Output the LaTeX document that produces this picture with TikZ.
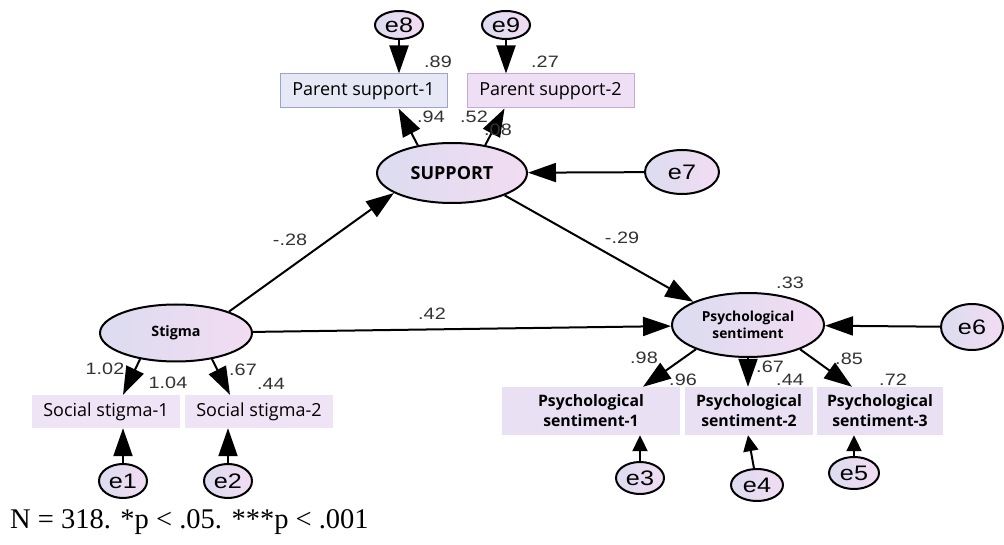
\documentclass[tikz,border=0pt]{standalone}
\usepackage{fontspec}
\setmainfont{Liberation Serif}
\newfontfamily\numfont[FakeStretch=1.2]{Liberation Sans}
\newfontfamily\boxfont{Open Sans}
\usetikzlibrary{arrows.meta,shapes.geometric,calc}
\definecolor{ellL}{HTML}{DCDCF0}
\definecolor{ellR}{HTML}{F2DCF2}
\definecolor{pbAfill}{HTML}{E6E8F6}
\definecolor{pbAdraw}{HTML}{9AA6C8}
\definecolor{pbBfill}{HTML}{EFDFF5}
\definecolor{pbBdraw}{HTML}{C8A8D8}
\definecolor{ssfill}{HTML}{EFE3F6}
\definecolor{psfill}{HTML}{E9E1F3}
\tikzset{
  latent/.style={ellipse, draw=black, line width=2pt, left color=ellL, right color=ellR, inner sep=0pt},
  errnode/.style={ellipse, draw=black, line width=2pt, left color=ellL, right color=ellR, inner sep=0pt,
    font=\numfont\fontsize{21}{21}\selectfont},
  obsbox/.style={rectangle, inner sep=0pt, font=\boxfont\fontsize{18}{18}\selectfont},
  psbox/.style={rectangle, inner sep=0pt, fill=psfill, align=center,
    font=\boxfont\bfseries\fontsize{15.8}{20}\selectfont},
  arr/.style={line width=2pt, -{Triangle[length=28pt,width=19pt]}},
  arrs/.style={line width=2pt, -{Triangle[length=16pt,width=15pt]}},
  lbl/.style={font=\numfont\fontsize{16.5}{16.5}\selectfont, inner sep=0pt, text=black!80}
}
\begin{document}
\begin{tikzpicture}[x=1pt,y=-1pt]
\path[use as bounding box, fill=white] (0,0) rectangle (1004,545);
% top error terms and parent boxes
\node[errnode, minimum width=48pt, minimum height=28pt] (e8) at (399,25) {e8};
\node[errnode, minimum width=48pt, minimum height=28pt] (e9) at (506,25) {e9};
\node[obsbox, fill=pbAfill, draw=pbAdraw, line width=1pt, minimum width=167pt, minimum height=34pt] (pb1) at (363.5,91) {Parent support-1};
\node[obsbox, fill=pbBfill, draw=pbBdraw, line width=1pt, minimum width=167pt, minimum height=34pt] (pb2) at (550.5,91) {Parent support-2};
\node[latent, minimum width=150pt, minimum height=60pt, font=\boxfont\bfseries\fontsize{18}{18}\selectfont] (sup) at (452,173) {SUPPORT};
\node[errnode, minimum width=74pt, minimum height=44pt] (e7) at (682,172) {e7};
% Stigma side
\node[latent, minimum width=152pt, minimum height=57pt, font=\boxfont\bfseries\fontsize{14.3}{14.3}\selectfont] (stig) at (176,333) {Stigma};
\node[obsbox, fill=ssfill, minimum width=148pt, minimum height=33pt] (ss1) at (106,411.5) {Social stigma-1};
\node[obsbox, fill=ssfill, minimum width=148pt, minimum height=33pt] (ss2) at (259,411.5) {Social stigma-2};
\node[errnode, minimum width=48pt, minimum height=34pt] (e1) at (123,481) {e1};
\node[errnode, minimum width=48pt, minimum height=34pt] (e2) at (228,481) {e2};
% Psychological sentiment side
\node[latent, minimum width=152pt, minimum height=64pt, align=center, font=\boxfont\bfseries\fontsize{13.8}{16.5}\selectfont] (ps) at (748,325) {Psychological\\sentiment};
\node[errnode, minimum width=62pt, minimum height=46pt] (e6) at (972,327) {e6};
\node[psbox, minimum width=178pt, minimum height=48pt] (psb1) at (591,411) {Psychological\\sentiment-1};
\node[psbox, minimum width=128pt, minimum height=48pt] (psb2) at (749,411) {Psychological\\sentiment-2};
\node[psbox, minimum width=126pt, minimum height=48pt] (psb3) at (880,411) {Psychological\\sentiment-3};
\node[errnode, minimum width=48pt, minimum height=32pt] (e3) at (640,478) {e3};
\node[errnode, minimum width=52pt, minimum height=32pt] (e4) at (757,485) {e4};
\node[errnode, minimum width=50pt, minimum height=32pt] (e5) at (854,473) {e5};
% connectors
\draw[arr] (e8) -- (e8 |- pb1.north);
\draw[arr] (e9) -- (e9 |- pb2.north);
\draw[arr] (sup.141) -- ($(pb1.south)+(35,0)$);
\draw[arr] (sup.40) -- ($(pb2.south)+(-46,0)$);
\draw[arr] (e7) -- (sup);
\draw[arr] (stig.22) -- (sup.199);
\draw[arr] (sup.-23) -- (ps.157);
\draw[arr] (stig) -- (ps);
\draw[arr] (e6) -- (ps);
\draw[arr] (stig.-144) -- ($(ss1.north)+(17,0)$);
\draw[arr] (stig.-36) -- ($(ss2.north)+(-29,0)$);
\draw[arr] (e1) -- (e1 |- ss1.south);
\draw[arr] (e2) -- (e2 |- ss2.south);
\draw[arr] (ps.205) -- ($(psb1.north)+(52,0)$);
\draw[arr] (ps.south) -- (ps.south |- psb2.north);
\draw[arr] (ps.-25) -- ($(psb3.north)+(-28,0)$);
\draw[arrs] (e3) -- (e3 |- psb1.south);
\draw[arrs] (e4) -- ($(psb2.south)+(-1,0)$);
\draw[arrs] (e5) -- (e5 |- psb3.south);
% labels
\node[lbl] (l89) at (438,62) {.89};
\node[lbl] (l27) at (545,62) {.27};
\node[lbl] (l94) at (431,117) {.94};
\node[lbl] (l52) at (474,117) {.52};
\node[lbl] (l08) at (498,130) {.08};
\node[lbl] (l28) at (290,240) {-.28};
\node[lbl] (l29) at (622,238) {-.29};
\node[lbl] (l42) at (432,314) {.42};
\node[lbl] (l33) at (790,283) {.33};
\node[lbl] (l102) at (105,369) {1.02};
\node[lbl] (l104) at (168,383) {1.04};
\node[lbl] (l67a) at (243,370) {.67};
\node[lbl] (l44a) at (271,384) {.44};
\node[lbl] (l98) at (644,358) {.98};
\node[lbl] (l96) at (683,380) {.96};
\node[lbl] (l67b) at (770,367) {.67};
\node[lbl] (l44b) at (790,380) {.44};
\node[lbl] (l85) at (849,359) {.85};
\node[lbl] (l72) at (893,380) {.72};
\node[anchor=base west, inner sep=0pt, font=\fontsize{28.5}{28.5}\selectfont] (note) at (10,528) {N = 318. *p < .05. ***p < .001};
\end{tikzpicture}
\end{document}
